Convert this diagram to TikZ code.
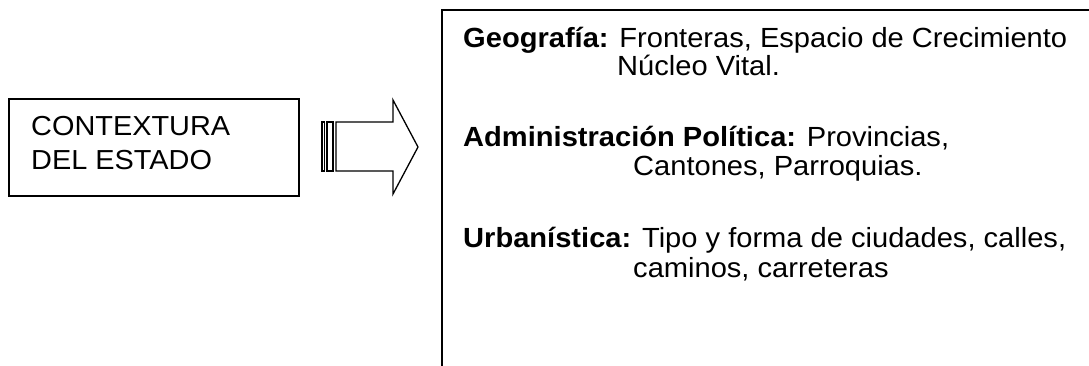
\documentclass[tikz,border=0pt]{standalone}
\usepackage{fontspec}
\setmainfont{Liberation Sans}[FakeStretch=1.05]
\begin{document}
\begin{tikzpicture}[x=1pt,y=-1pt,
  frame/.style={draw=black,line width=1.6pt},
  arrowline/.style={draw=black,line width=1.3pt,line join=miter},
  txt/.style={anchor=base west,inner sep=0pt,font=\fontsize{27.7}{29}\selectfont},
  lefttxt/.style={anchor=base west,inner sep=0pt,font=\fontsize{27.5}{34}\selectfont}]
\clip (0,0) rectangle (1089,365);
\fill[white] (0,0) rectangle (1089,365);
% left box
\node[frame,anchor=north west,minimum width=290pt,minimum height=97pt,inner sep=0pt] (ctx) at (8,98) {};
\node[lefttxt] (ctxtext1) at (31,135) {CONTEXTURA};
\node[lefttxt] (ctxtext2) at (31,169) {DEL ESTADO};
% striped block arrow
\coordinate (a0) at (336,122);
\draw[arrowline] (322,122) rectangle (324.5,171);
\draw[arrowline] (327,122) rectangle (333,171);
\draw[arrowline] (a0) -- (393,122) -- (393,100) -- (418,147) -- (393,194) -- (393,171) -- (336,171) -- cycle;
% right box (extends beyond the picture)
\node[frame,anchor=north west,minimum width=700pt,minimum height=400pt,inner sep=0pt] (info) at (441,9) {};
% texts
\node[txt] (geo) at (463,47) {\textbf{Geografía:} Fronteras, Espacio de Crecimiento};
\node[txt] (geo2) at (617,75) {Núcleo Vital.};
\node[txt] (adm) at (463,146) {\textbf{Administración Política:} Provincias,};
\node[txt] (adm2) at (633,175) {Cantones, Parroquias.};
\node[txt] (urb) at (463,247) {\textbf{Urbanística:} Tipo y forma de ciudades, calles,};
\node[txt] (urb2) at (633,277) {caminos, carreteras};
\end{tikzpicture}
\end{document}
